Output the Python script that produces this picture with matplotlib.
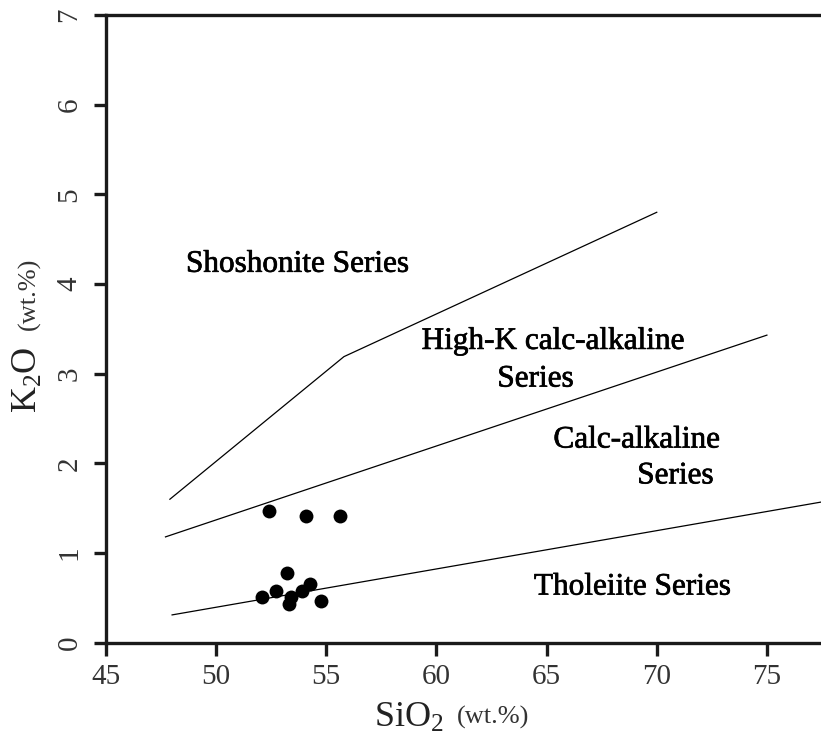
import matplotlib
matplotlib.use("Agg")
import matplotlib.pyplot as plt
import matplotlib.patheffects as pe

# --- Config ---
plt.rcParams["font.family"] = ["Liberation Serif", "DejaVu Serif"]
plt.rcParams["mathtext.fontset"] = "custom"
plt.rcParams["mathtext.rm"] = "Liberation Serif"
plt.rcParams["mathtext.it"] = "Liberation Serif:italic"

# --- Data ---
# field boundaries (SiO2, K2O)
tholeiite_x = [48.0, 77.5]
tholeiite_y = [0.31, 1.57]
calc_alk_x = [47.7, 75.0]
calc_alk_y = [1.18, 3.43]
high_k_x = [47.9, 55.8, 70.0]
high_k_y = [1.60, 3.19, 4.80]

# samples
sio2 = [52.4, 54.1, 55.6, 53.2, 52.1, 52.7, 53.4, 53.3, 53.9, 54.25, 54.75]
k2o = [1.47, 1.41, 1.41, 0.78, 0.51, 0.58, 0.51, 0.43, 0.58, 0.66, 0.47]

# field names
field_labels = ["Shoshonite Series", "High-K calc-alkaline", "Series",
                "Calc-alkaline", "Series", "Tholeiite Series"]
label_x = [53.7, 65.3, 64.5, 69.1, 70.85, 68.9]
label_y = [4.22, 3.36, 2.94, 2.26, 1.86, 0.62]

xticks = [45, 50, 55, 60, 65, 70, 75]
yticks = [0, 1, 2, 3, 4, 5, 6, 7]

# --- Plot ---
W, H = 821, 735
fig = plt.figure(figsize=(W / 100, H / 100), dpi=100)
ax = fig.add_axes([106 / W, (H - 642.7) / H, (W - 106) / W, (642.7 - 15) / H])

ax.plot(tholeiite_x, tholeiite_y, color="black", lw=0.9)
ax.plot(calc_alk_x, calc_alk_y, color="black", lw=0.9)
ax.plot(high_k_x, high_k_y, color="black", lw=0.9)
ax.plot(sio2, k2o, "o", color="black", ms=10, mec="none")

# slightly heavier serif text, like the printed figure
heavy = [pe.withStroke(linewidth=0.5, foreground="black")]
for txt, x, y in zip(field_labels, label_x, label_y):
    ax.text(x, y, txt, ha="center", va="center", fontsize=22.5, color="black",
            path_effects=heavy)

ax.set_xlim(45, 45 + 715 / 22.03)
ax.set_ylim(0, 7)
ax.set_xticks(xticks)
ax.set_yticks(yticks)
ax.spines["right"].set_visible(False)
for s in ["left", "bottom", "top"]:
    ax.spines[s].set_linewidth(2.4)
    ax.spines[s].set_color("#1a1a1a")
ax.tick_params(axis="both", direction="out", length=9, width=2.4, color="#1a1a1a",
               labelsize=21, labelcolor="#333333")
ax.tick_params(axis="x", pad=6)
ax.tick_params(axis="y", pad=8)
for lab in ax.get_yticklabels():
    lab.set_rotation(90)
    lab.set_va("center")

# axis labels (mixed sizes)
fig.text(28 / W, 1 - 380 / H, r"$\mathrm{K_2O}$", rotation=90, ha="center", va="center",
         fontsize=26, color="#222222")
fig.text(29 / W, 1 - 294 / H, "(wt.%)", rotation=90, ha="center", va="center",
         fontsize=19, color="#333333")
fig.text(409 / W, 1 - 718 / H, r"$\mathrm{SiO_2}$", ha="center", va="center",
         fontsize=26, color="#222222")
fig.text(493 / W, 1 - 717 / H, "(wt.%)", ha="center", va="center",
         fontsize=19, color="#333333")

fig.savefig("out.png", dpi=100)
